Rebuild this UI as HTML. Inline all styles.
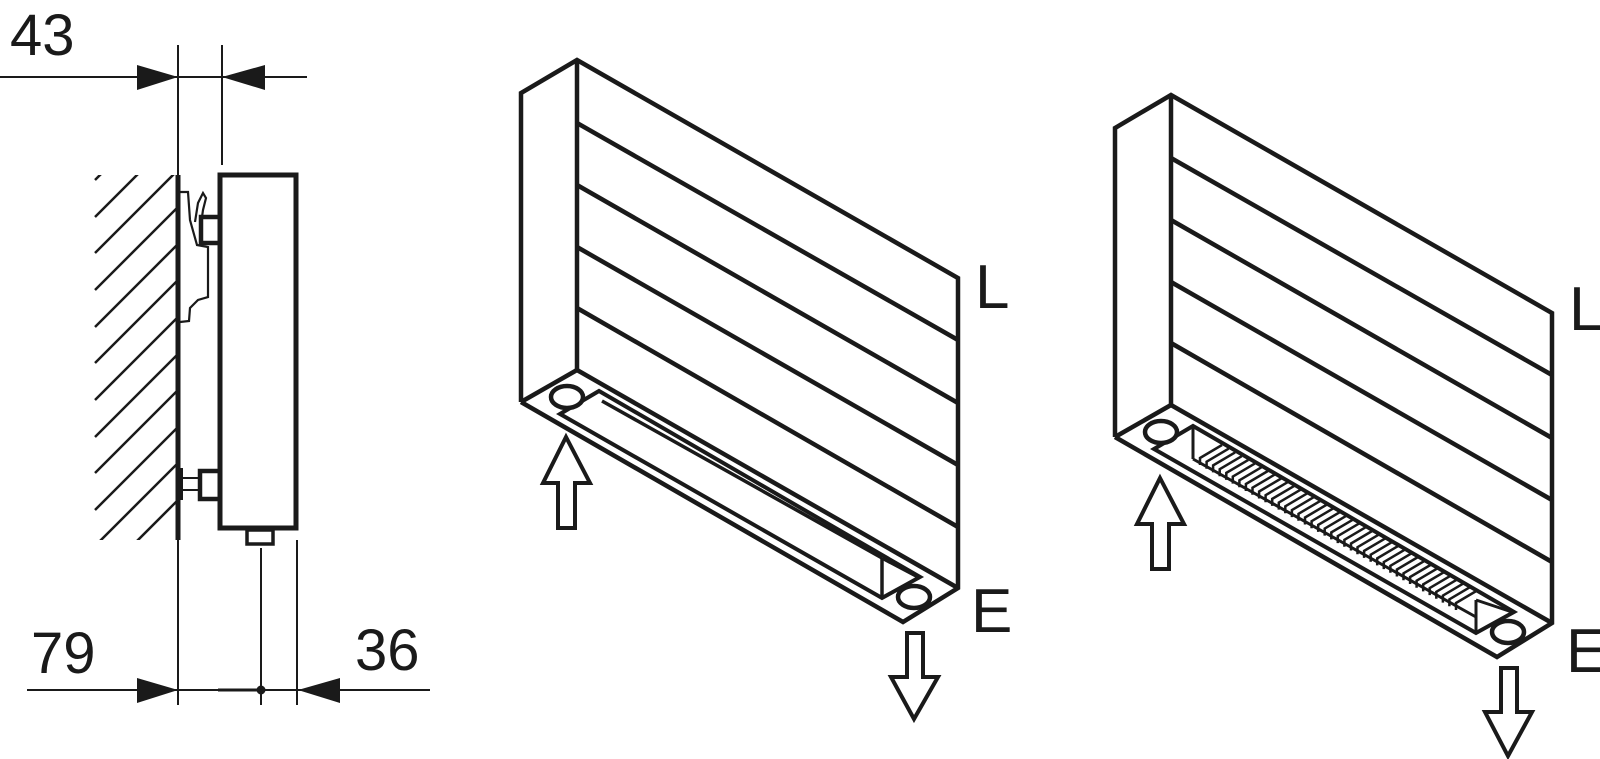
<!DOCTYPE html>
<html><head><meta charset="utf-8"><style>
html,body{margin:0;padding:0;background:#fff;}
svg{display:block;}
text{font-family:"Liberation Sans",sans-serif;fill:#1a1a1a;}
</style></head><body>
<svg width="1600" height="759" viewBox="0 0 1600 759" xmlns="http://www.w3.org/2000/svg">
<defs><clipPath id="hc"><rect x="93" y="175" width="83" height="365"/></clipPath></defs>
<g stroke="#1a1a1a" fill="none" stroke-linejoin="miter">
<!-- side view -->
<g stroke-width="2">
<line x1="0" y1="77" x2="307" y2="77"/>
<line x1="178" y1="45" x2="178" y2="705"/>
<line x1="222" y1="45" x2="222" y2="165"/>
<line x1="27" y1="690" x2="430" y2="690"/>
<line x1="261" y1="548" x2="261" y2="705"/>
<line x1="297" y1="540" x2="297" y2="705"/>
</g>
<line x1="218" y1="690" x2="261" y2="690" stroke-width="3"/>
<circle cx="261" cy="690" r="4" fill="#1a1a1a"/>
<polygon points="137,65 137,90 178,77" fill="#1a1a1a" stroke="none"/>
<polygon points="265,65 265,90 222,77" fill="#1a1a1a" stroke="none"/>
<polygon points="137,678 137,703 178,690" fill="#1a1a1a" stroke="none"/>
<polygon points="340,678 340,703 298,690" fill="#1a1a1a" stroke="none"/>
<line x1="178" y1="175" x2="178" y2="540" stroke-width="5"/>
<g clip-path="url(#hc)" stroke-width="2.5">
<line x1="95" y1="180" x2="200" y2="75"/>
<line x1="95" y1="217" x2="200" y2="112"/>
<line x1="95" y1="253" x2="200" y2="148"/>
<line x1="95" y1="290" x2="200" y2="185"/>
<line x1="95" y1="327" x2="200" y2="222"/>
<line x1="95" y1="363" x2="200" y2="258"/>
<line x1="95" y1="400" x2="200" y2="295"/>
<line x1="95" y1="437" x2="200" y2="332"/>
<line x1="95" y1="473" x2="200" y2="368"/>
<line x1="95" y1="510" x2="200" y2="405"/>
<line x1="95" y1="546" x2="200" y2="441"/>
<line x1="95" y1="583" x2="200" y2="478"/>
</g>
<rect x="220" y="175" width="76" height="353" stroke-width="5"/>
<rect x="201" y="217" width="19" height="26" stroke-width="4.5"/>
<rect x="200" y="471" width="20" height="28" stroke-width="4.5"/>
<line x1="180" y1="478" x2="200" y2="478" stroke-width="2"/>
<line x1="180" y1="490" x2="200" y2="490" stroke-width="2"/>
<rect x="178" y="468" width="5" height="32" fill="#1a1a1a" stroke="none"/>
<rect x="247" y="530" width="26" height="14" stroke-width="3.5"/>
<path d="M180,192 L188,192 L190,220 L197,245 L208,247 L208,297 L198,300 L190,308 L189,321 L180,322" stroke-width="2.2"/>
<path d="M195,222 L198,203 L203,193 L206,198 L203,210 L202,217" stroke-width="2.2"/>

<!-- radiator figure 1 -->
<g stroke-width="4.5">
<polyline points="521,402 521,93 577,60 958,278 958,588 903,622 521,402"/>
<line x1="577" y1="60" x2="577" y2="370"/>
<line x1="577" y1="370" x2="958" y2="588"/>
<line x1="521" y1="402" x2="577" y2="370"/>
<line x1="577" y1="123" x2="958" y2="340"/>
<line x1="577" y1="185" x2="958" y2="403"/>
<line x1="577" y1="247" x2="958" y2="465"/>
<line x1="577" y1="308" x2="958" y2="527"/>
<polygon points="560,414 599,391 920,577 882,598" stroke-width="4"/>
<ellipse cx="567" cy="397" rx="16" ry="11" fill="#fff"/>
<ellipse cx="914" cy="597" rx="16" ry="11" fill="#fff"/>
<polygon points="566,437 590,483 575,483 575,528 558,528 558,483 543,483" stroke-width="4"/>
<polygon points="907,633 923,633 923,677 938,677 914,719 891,677 907,677" stroke-width="4"/>
</g>
<g stroke-width="3.5">
<line x1="602" y1="401" x2="882" y2="558"/>
<line x1="882" y1="558" x2="882" y2="598"/>
<line x1="882" y1="558" x2="918" y2="577"/>
</g>

<!-- radiator figure 2 -->
<g transform="translate(594,35)" stroke-width="4.5">
<polyline points="521,402 521,93 577,60 958,278 958,588 903,622 521,402"/>
<line x1="577" y1="60" x2="577" y2="370"/>
<line x1="577" y1="370" x2="958" y2="588"/>
<line x1="521" y1="402" x2="577" y2="370"/>
<line x1="577" y1="123" x2="958" y2="340"/>
<line x1="577" y1="185" x2="958" y2="403"/>
<line x1="577" y1="247" x2="958" y2="465"/>
<line x1="577" y1="308" x2="958" y2="527"/>
<polygon points="560,414 599,391 920,577 882,598" stroke-width="4"/>
<ellipse cx="567" cy="397" rx="16" ry="11" fill="#fff"/>
<ellipse cx="914" cy="597" rx="16" ry="11" fill="#fff"/>
<polygon points="566,443 590,489 575,489 575,534 558,534 558,489 543,489" stroke-width="4"/>
<polygon points="907,633 923,633 923,677 938,677 914,721 891,677 907,677" stroke-width="4"/>
<g stroke-width="3">
<line x1="599" y1="393" x2="599" y2="424"/>
<line x1="882" y1="565" x2="882" y2="598"/>
<line x1="882" y1="565" x2="918" y2="577"/>
<line x1="599" y1="424" x2="882" y2="582"/>
</g>
<g id="fins" stroke-width="2.5"></g>
</g>
</g>
<text x="10" y="55" font-size="58">43</text>
<text x="31" y="673" font-size="58">79</text>
<text x="355" y="670" font-size="58">36</text>
<text x="975" y="308" font-size="62">L</text>
<text x="971" y="632" font-size="62">E</text>
<text x="1569" y="330" font-size="62">L</text>
<text x="1566" y="672" font-size="62">E</text>
</svg>
<script>
(function(){
var g=document.getElementById('fins');var s='';
var n=40;
for(var i=0;i<n;i++){
 var t=i/(n-1);
 var x=606+t*(862-606), y=428+t*(573-428);
 s+='<polyline points="'+x.toFixed(1)+','+(y+2).toFixed(1)+' '+x.toFixed(1)+','+(y-5).toFixed(1)+' '+(x+22).toFixed(1)+','+(y-18).toFixed(1)+'"/>';
}
g.innerHTML=s;
})();
</script>
</body></html>
